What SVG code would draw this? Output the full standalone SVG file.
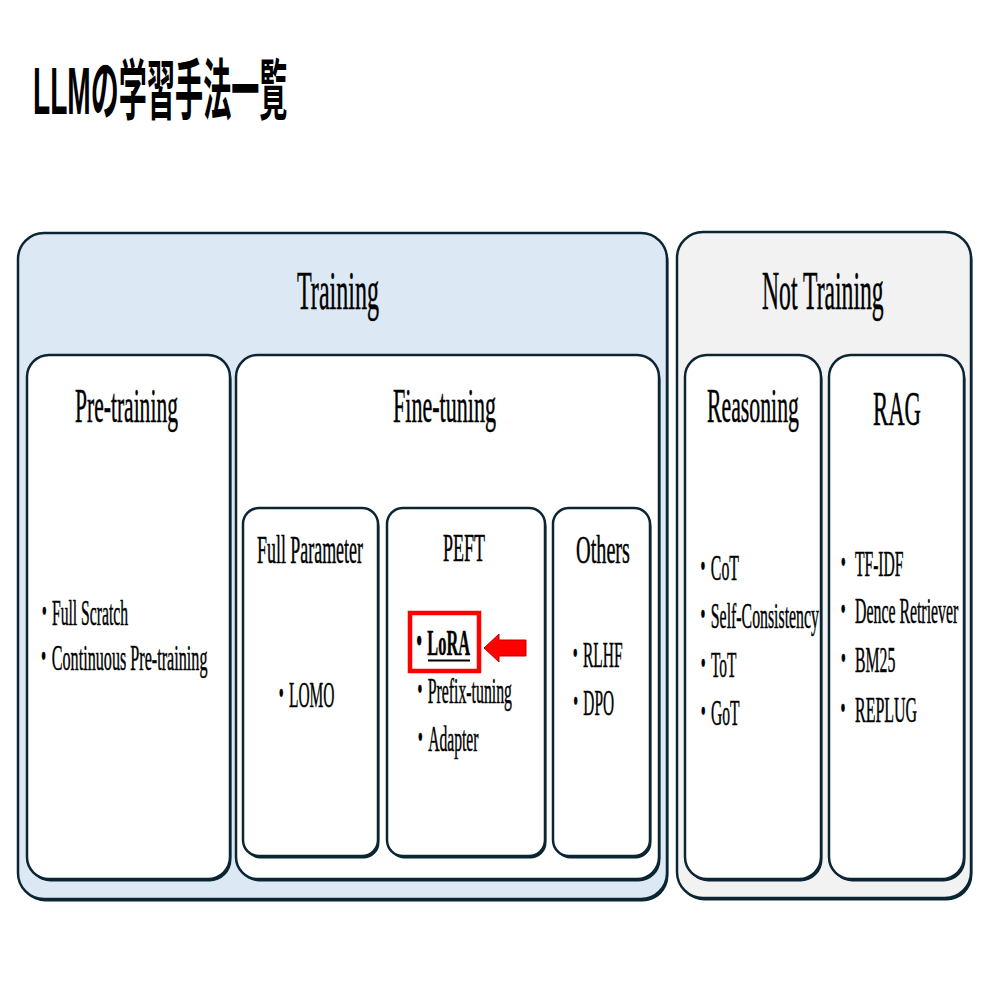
<svg xmlns="http://www.w3.org/2000/svg" width="994" height="994" viewBox="0 0 994 994">
<style>
.shadow{fill:#0b2533;}
.box{stroke:#0b2533;stroke-width:2.5;}
.train{fill:#dce9f5;}
.nottrain{fill:#f2f2f2;}
.inner{fill:#ffffff;}
.t{font-family:"Liberation Serif","Noto Sans CJK JP",serif;fill:#000;stroke:#000;stroke-width:0.5;}
.h1{font-size:54px;}
.h2{font-size:48px;}
.h3{font-size:40px;}
.b{font-size:36px;}
.title{font-family:"Liberation Sans","Noto Sans CJK JP",sans-serif;font-weight:700;font-size:66px;fill:#000;}
</style>
<rect width="994" height="994" fill="#ffffff"/>
<text class="title" transform="translate(33,114) scale(0.4258,1)">LLMの学習手法一覧</text>

<g id="training">
<rect class="shadow" x="19.5" y="235.5" width="649" height="666" rx="26"/>
<rect class="box train" x="18" y="233" width="649" height="666" rx="26"/>
<text class="t h1" transform="translate(297,309) scale(0.4462,1)">Training</text>
</g>
<g id="not-training">
<rect class="shadow" x="678.5" y="234.5" width="294" height="666" rx="26"/>
<rect class="box nottrain" x="677" y="232" width="294" height="666" rx="26"/>
<text class="t h1" transform="translate(762,309) scale(0.4385,1)">Not Training</text>
</g>

<g id="pre-training">
<rect class="shadow" x="28.5" y="357.5" width="203" height="524" rx="22"/>
<rect class="box inner" x="27" y="355" width="203" height="524" rx="22"/>
<text class="t h2" transform="translate(75,422) scale(0.4492,1)">Pre-training</text>
<text class="t b" transform="translate(36.4,625) scale(0.4341,1)">・Full Scratch</text>
<text class="t b" transform="translate(35.6,670) scale(0.4491,1)">・Continuous Pre-training</text>
</g>

<g id="fine-tuning">
<rect class="shadow" x="237.5" y="357.5" width="423" height="524" rx="22"/>
<rect class="box inner" x="236" y="355" width="423" height="524" rx="22"/>
<text class="t h2" transform="translate(393,422) scale(0.4598,1)">Fine-tuning</text>
</g>

<g id="full-parameter">
<rect class="shadow" x="244.5" y="510.5" width="135" height="348" rx="16"/>
<rect class="box inner" x="243" y="508" width="135" height="348" rx="16"/>
<text class="t h3" transform="translate(257,563) scale(0.448,1)">Full Parameter</text>
<text class="t b" transform="translate(273.5,707) scale(0.4296,1)">・LOMO</text>
</g>

<g id="peft">
<rect class="shadow" x="388.5" y="510.5" width="158" height="348" rx="16"/>
<rect class="box inner" x="387" y="508" width="158" height="348" rx="16"/>
<text class="t h3" transform="translate(443,561) scale(0.4497,1)">PEFT</text>
<rect x="410" y="613" width="69" height="58" fill="none" stroke="#ff0000" stroke-width="4.5"/>
<text class="t b" transform="translate(411,655) scale(0.4538,1)" font-weight="700">・LoRA</text>
<line x1="428" y1="660.5" x2="470" y2="660.5" stroke="#000" stroke-width="2.2"/>
<polygon points="484,648 499,634 499,640 526,640 526,656 499,656 499,662" fill="#ff0000" stroke="#c00000" stroke-width="1"/>
<text class="t b" transform="translate(412,703) scale(0.4386,1)">・Prefix-tuning</text>
<text class="t b" transform="translate(412.5,751) scale(0.4342,1)">・Adapter</text>
</g>

<g id="others">
<rect class="shadow" x="554.5" y="510.5" width="97" height="348" rx="16"/>
<rect class="box inner" x="553" y="508" width="97" height="348" rx="16"/>
<text class="t h3" transform="translate(576,563) scale(0.5066,1)">Others</text>
<text class="t b" transform="translate(567.5,667) scale(0.4297,1)">・RLHF</text>
<text class="t b" transform="translate(568,715) scale(0.4259,1)">・DPO</text>
</g>

<g id="reasoning">
<rect class="shadow" x="686.5" y="357.5" width="136" height="524" rx="22"/>
<rect class="box inner" x="685" y="355" width="136" height="524" rx="22"/>
<text class="t h2" transform="translate(707,422) scale(0.4539,1)">Reasoning</text>
<text class="t b" transform="translate(695,580) scale(0.44,1)">・CoT</text>
<text class="t b" transform="translate(695,628) scale(0.4397,1)">・Self-Consistency</text>
<text class="t b" transform="translate(695.5,677) scale(0.4286,1)">・ToT</text>
<text class="t b" transform="translate(695.5,725) scale(0.4314,1)">・GoT</text>
</g>

<g id="rag">
<rect class="shadow" x="830.5" y="357.5" width="135" height="524" rx="22"/>
<rect class="box inner" x="829" y="355" width="135" height="524" rx="22"/>
<text class="t h2" transform="translate(873,425) scale(0.4738,1)">RAG</text>
<text class="t b" transform="translate(835.5,576) scale(0.4331,1)">・ TF-IDF</text>
<text class="t b" transform="translate(835.3,623) scale(0.4394,1)">・ Dence Retriever</text>
<text class="t b" transform="translate(835.4,672) scale(0.4379,1)">・ BM25</text>
<text class="t b" transform="translate(835.1,722) scale(0.4432,1)">・ REPLUG</text>
</g>
<g id="connectors"></g>
</svg>
